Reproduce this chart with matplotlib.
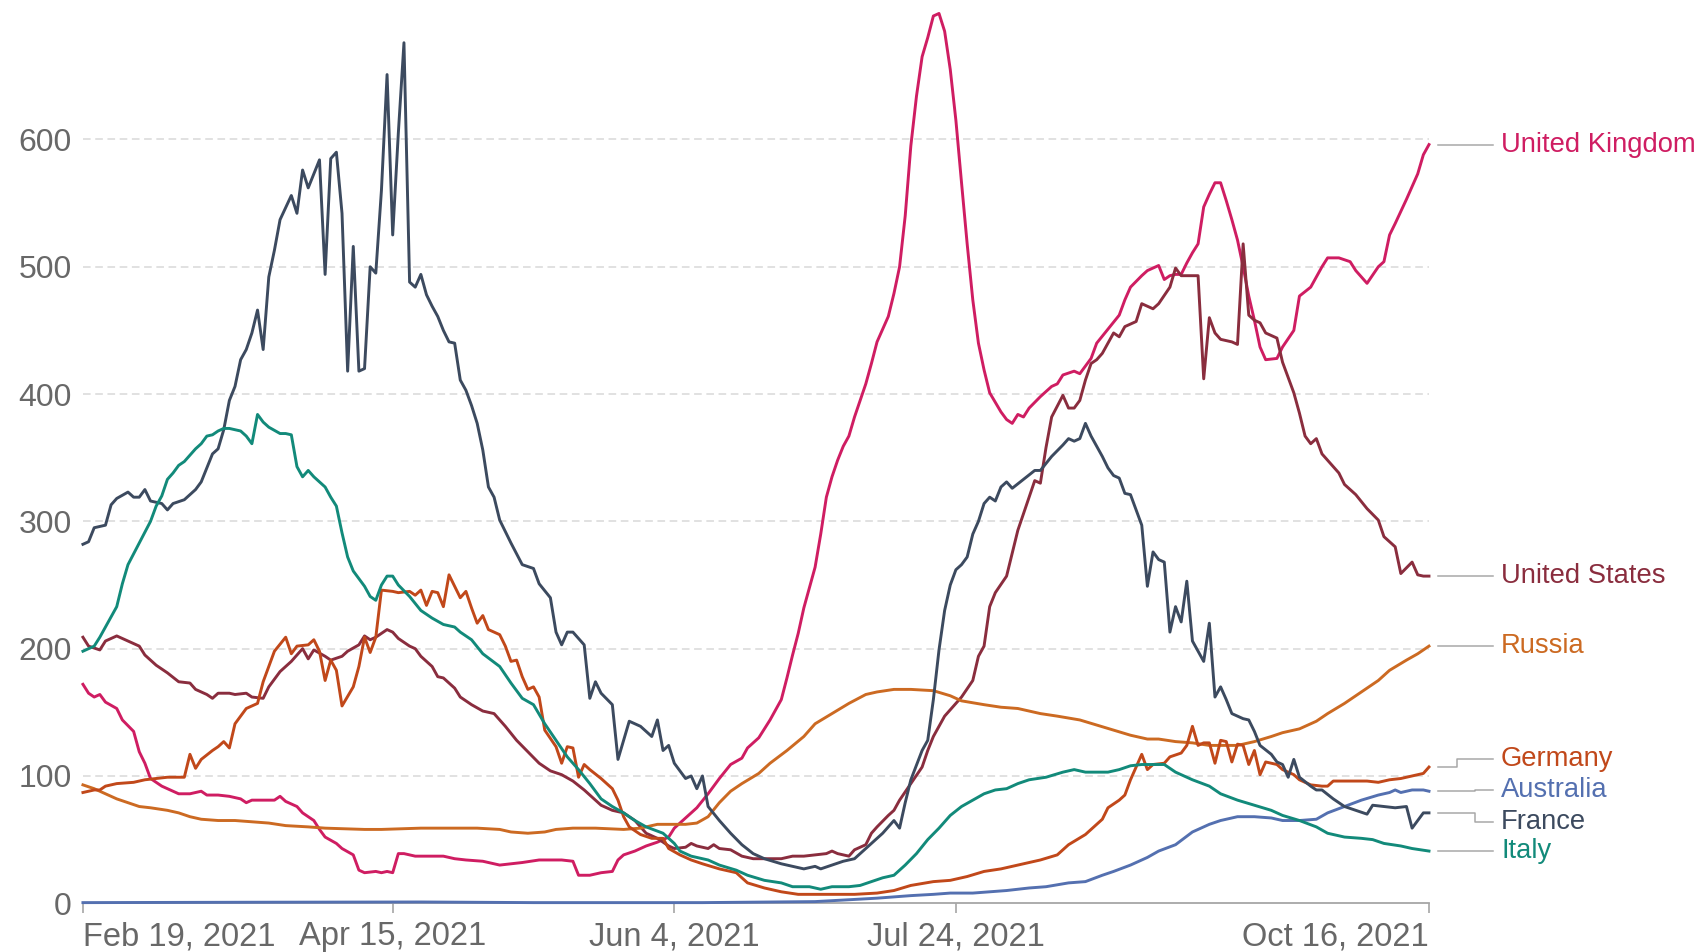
import numpy as np
import matplotlib
matplotlib.use("Agg")
import matplotlib.pyplot as plt
import matplotlib.transforms as mtransforms

plt.rcParams['font.family'] = ['Liberation Sans', 'DejaVu Sans']

START = np.datetime64('2021-02-19')
END = np.datetime64('2021-10-16')

# each series: (days since Feb 19 2021, value)
united_kingdom = [(0,172),(1,165),(2,162),(3,164),(4,158),(6,153),(7,144),(9,135),(10,119),(11,110),(12,98),(14,92),(16,88),(17,86),(19,86),(21,88),(22,85),(24,85),(26,84),(28,82),(29,79),(30,81),(32,81),(34,81),(35,84),(36,80),(38,76),(39,71),(41,65),(42,58),(43,52),(45,47),(46,43),(48,38),(49,26),(50,24),(52,25),(53,24),(54,25),(55,24),(56,39),(57,39),(59,37),(61,37),(64,37),(66,35),(68,34),(71,33),(74,30),(76,31),(78,32),(81,34),(83,34),(85,34),(87,33),(88,22),(90,22),(92,24),(94,25),(95,34),(96,38),(98,41),(100,45),(102,48),(104,52),(105,59),(107,67),(109,75),(111,86),(113,98),(115,109),(117,114),(118,122),(120,130),(121,137),(122,144),(124,160),(125,177),(126,195),(127,212),(128,232),(130,264),(131,290),(132,319),(133,335),(134,348),(135,359),(136,367),(137,382),(138,395),(139,408),(140,424),(141,441),(143,461),(144,479),(145,500),(146,540),(147,595),(148,634),(149,665),(150,680),(151,697),(152,699),(153,685),(154,655),(155,615),(156,566),(157,518),(158,474),(159,440),(160,419),(161,401),(163,386),(164,380),(165,377),(166,384),(167,382),(168,389),(170,398),(172,406),(173,408),(174,415),(176,418),(177,416),(179,428),(180,440),(182,451),(184,462),(185,474),(186,484),(188,493),(189,497),(191,501),(192,490),(193,493),(194,494),(195,494),(196,503),(197,511),(198,518),(199,547),(200,557),(201,566),(202,566),(203,552),(204,537),(205,521),(206,500),(207,477),(208,458),(209,437),(210,427),(212,428),(213,437),(215,450),(216,477),(218,484),(219,492),(220,500),(221,507),(223,507),(225,504),(226,497),(228,487),(230,500),(231,504),(232,525),(233,534),(235,553),(236,563),(237,573),(238,588),(239,596)]

united_states = [(0,209),(1,202),(3,199),(4,206),(6,210),(8,206),(10,202),(11,195),(13,187),(15,181),(17,174),(19,173),(20,168),(22,164),(23,161),(24,165),(26,165),(27,164),(29,165),(30,162),(32,161),(33,170),(35,182),(37,190),(39,200),(40,192),(41,199),(43,194),(44,191),(46,194),(47,198),(49,203),(50,210),(51,207),(52,209),(54,215),(55,213),(56,208),(58,202),(59,200),(60,194),(62,186),(63,178),(64,177),(66,169),(67,162),(69,156),(71,151),(73,149),(75,139),(77,128),(79,119),(81,110),(83,104),(85,101),(87,96),(89,89),(92,77),(94,73),(96,71),(98,65),(100,55),(102,51),(104,45),(105,43),(107,44),(108,47),(109,45),(111,43),(112,46),(113,43),(115,42),(117,37),(119,35),(122,35),(124,35),(126,37),(128,37),(130,38),(132,39),(133,41),(134,39),(136,37),(137,42),(139,46),(140,55),(141,60),(143,69),(144,73),(145,81),(147,94),(149,107),(150,120),(151,131),(153,147),(155,157),(156,162),(158,175),(159,194),(160,202),(161,233),(162,244),(164,257),(165,275),(166,293),(168,319),(169,332),(170,330),(171,358),(172,382),(174,399),(175,389),(176,389),(177,395),(178,411),(179,424),(180,427),(181,432),(182,440),(183,448),(184,445),(185,453),(187,457),(188,471),(189,469),(190,467),(191,471),(193,484),(194,499),(195,493),(197,493),(198,493),(199,412),(200,460),(201,448),(202,443),(204,441),(205,439),(206,518),(207,462),(208,458),(209,456),(210,448),(212,444),(213,425),(215,401),(216,385),(217,367),(218,361),(219,365),(220,353),(221,348),(223,338),(224,329),(226,321),(228,310),(230,301),(231,288),(233,280),(234,259),(236,268),(237,258),(238,257),(239,257)]

russia = [(0,93),(2,90),(4,86),(6,82),(8,79),(10,76),(12,75),(15,73),(17,71),(19,68),(21,66),(24,65),(27,65),(30,64),(33,63),(36,61),(40,60),(43,59),(50,58),(53,58),(60,59),(70,59),(74,58),(76,56),(79,55),(82,56),(84,58),(87,59),(91,59),(96,58),(99,59),(102,62),(107,62),(109,63),(111,68),(113,79),(115,88),(117,94),(120,102),(122,110),(125,120),(128,131),(130,141),(133,149),(136,157),(139,164),(141,166),(144,168),(147,168),(151,167),(154,163),(156,159),(160,156),(163,154),(166,153),(170,149),(173,147),(177,144),(180,140),(183,136),(186,132),(189,129),(191,129),(194,127),(197,126),(200,124),(202,124),(205,124),(208,127),(211,131),(213,134),(216,137),(219,143),(221,149),(224,157),(227,166),(230,175),(232,183),(235,191),(237,196),(239,202)]

germany = [(0,87),(2,89),(3,89),(4,92),(6,94),(9,95),(11,97),(13,98),(15,99),(18,99),(19,117),(20,106),(21,113),(23,120),(24,123),(25,127),(26,122),(27,141),(28,147),(29,153),(31,157),(32,174),(33,186),(34,198),(36,209),(37,196),(38,202),(40,203),(41,207),(42,198),(43,175),(44,191),(45,183),(46,155),(48,170),(49,186),(50,209),(51,197),(52,209),(53,246),(55,245),(56,244),(58,245),(59,242),(60,246),(61,234),(62,245),(63,244),(64,233),(65,258),(66,249),(67,240),(68,245),(69,232),(70,220),(71,226),(72,215),(74,211),(75,202),(76,190),(77,191),(78,178),(79,168),(80,170),(81,162),(82,136),(84,123),(85,110),(86,123),(87,122),(88,99),(89,109),(90,105),(92,98),(94,90),(95,81),(96,68),(97,60),(99,54),(101,51),(103,51),(104,43),(106,38),(108,34),(110,31),(113,27),(116,24),(118,16),(121,12),(124,9),(127,7),(130,7),(134,7),(137,7),(141,8),(144,10),(147,14),(151,17),(154,18),(157,21),(160,25),(163,27),(166,30),(170,34),(173,38),(175,46),(178,54),(181,66),(182,75),(184,81),(185,85),(186,97),(188,117),(189,105),(190,109),(192,110),(193,115),(195,118),(196,124),(197,139),(198,124),(199,126),(200,126),(201,110),(202,128),(203,127),(204,111),(205,125),(206,124),(207,109),(208,120),(209,101),(210,111),(212,109),(213,105),(215,101),(216,97),(218,93),(220,92),(221,92),(222,96),(224,96),(226,96),(228,96),(230,95),(232,97),(234,98),(236,100),(238,102),(239,107)]

australia = [(0,0.5),(30,0.8),(60,1),(80,0.5),(110,0.5),(130,1.3),(137,3),(141,4),(144,5),(147,6),(151,7),(154,8),(158,8),(161,9),(164,10),(168,12),(171,13),(175,16),(178,17),(181,22),(183,25),(186,30),(189,36),(191,41),(194,46),(197,56),(200,62),(202,65),(205,68),(208,68),(211,67),(213,65),(216,65),(219,66),(221,71),(224,76),(227,81),(230,85),(232,87),(233,89),(234,87),(236,89),(238,89),(239,88)]

france = [(0,282),(1,284),(2,295),(4,297),(5,313),(6,318),(8,323),(9,319),(10,319),(11,325),(12,316),(14,314),(15,309),(16,314),(18,317),(20,325),(21,331),(22,342),(23,353),(24,357),(25,372),(26,395),(27,406),(28,427),(29,435),(30,448),(31,466),(32,435),(33,492),(34,513),(35,537),(37,556),(38,542),(39,576),(40,562),(42,584),(43,494),(44,585),(45,590),(46,542),(47,418),(48,516),(49,418),(50,420),(51,500),(52,495),(53,560),(54,651),(55,525),(56,605),(57,676),(58,488),(59,484),(60,494),(61,478),(62,469),(63,461),(64,450),(65,441),(66,440),(67,411),(68,403),(69,391),(70,377),(71,356),(72,327),(73,319),(74,301),(76,283),(78,266),(80,263),(81,251),(83,240),(84,213),(85,203),(86,213),(87,213),(89,203),(90,161),(91,174),(92,165),(94,156),(95,113),(97,143),(99,139),(101,131),(102,144),(103,120),(104,124),(105,110),(107,98),(108,100),(109,90),(110,100),(111,76),(113,65),(115,55),(117,46),(119,39),(121,35),(124,31),(126,29),(128,27),(130,29),(131,27),(133,30),(135,33),(137,35),(139,43),(142,55),(144,65),(145,59),(146,79),(147,97),(149,120),(150,128),(151,160),(152,199),(153,230),(154,250),(155,262),(156,266),(157,272),(158,290),(159,300),(160,314),(161,319),(162,316),(163,327),(164,331),(165,326),(167,333),(169,340),(170,340),(172,351),(174,360),(175,365),(176,363),(177,365),(178,377),(179,367),(181,351),(182,342),(183,336),(184,334),(185,322),(186,321),(187,309),(188,297),(189,249),(190,276),(191,270),(192,268),(193,213),(194,233),(195,221),(196,253),(197,206),(199,190),(200,220),(201,162),(202,170),(203,160),(204,149),(206,145),(207,144),(208,135),(209,124),(211,117),(212,111),(213,109),(214,99),(215,113),(216,99),(218,92),(219,89),(220,89),(222,82),(224,76),(226,73),(228,70),(229,77),(231,76),(233,75),(235,76),(236,59),(238,71),(239,71)]

italy = [(0,198),(2,202),(3,209),(4,217),(6,233),(7,251),(8,266),(10,283),(12,300),(13,312),(14,320),(15,333),(16,338),(17,344),(18,347),(19,352),(20,357),(21,361),(22,367),(23,368),(24,371),(25,373),(26,373),(28,371),(29,367),(30,361),(31,384),(32,378),(33,374),(35,369),(36,369),(37,368),(38,343),(39,335),(40,340),(41,335),(43,327),(44,319),(45,312),(46,291),(47,272),(48,261),(50,249),(51,241),(52,238),(53,250),(54,257),(55,257),(56,250),(58,241),(60,230),(62,224),(64,219),(66,217),(67,213),(69,207),(71,196),(74,186),(76,173),(78,161),(80,156),(82,141),(84,128),(86,115),(88,105),(90,94),(92,82),(94,76),(96,71),(98,65),(100,60),(103,55),(105,47),(106,41),(108,37),(111,34),(113,30),(116,26),(118,22),(121,18),(124,16),(126,13),(129,13),(131,11),(133,13),(136,13),(138,14),(140,17),(142,20),(144,22),(146,30),(148,39),(150,50),(152,59),(154,69),(156,76),(158,81),(160,86),(162,89),(164,90),(166,94),(168,97),(171,99),(174,103),(176,105),(178,103),(180,103),(182,103),(184,105),(186,108),(188,109),(190,109),(192,109),(194,103),(197,97),(200,92),(202,86),(205,81),(208,77),(211,73),(213,69),(216,65),(219,60),(221,55),(224,52),(227,51),(229,50),(231,47),(234,45),(236,43),(239,41)]

names = ["United Kingdom", "United States", "Russia", "Germany", "Australia", "France", "Italy"]
data = [united_kingdom, united_states, russia, germany, australia, france, italy]
colors = ["#cf1d62", "#8a2d3e", "#cc6a22", "#c1481a", "#5470b0", "#3c4a5f", "#128a7a"]

x_tick_dates = ['2021-02-19', '2021-04-15', '2021-06-04', '2021-07-24', '2021-10-16']
x_tick_labels = ['Feb 19, 2021', 'Apr 15, 2021', 'Jun 4, 2021', 'Jul 24, 2021', 'Oct 16, 2021']
y_ticks = [0, 100, 200, 300, 400, 500, 600]

# label tweaks so the end labels don't collide
label_shift = {"Germany": 6, "Australia": 1, "France": -7}
elbow_x = {"Germany": 1.0208, "Australia": 1.0342, "France": 1.0342}

fig = plt.figure(figsize=(17.03, 9.52), dpi=100)
ax = fig.add_axes([0.0487, 0.0512, 0.7904, 0.936])

for y in y_ticks[1:]:
    ax.axhline(y, color='#d9d9d9', lw=1.1, ls=(0, (5, 3)), zorder=1)

trans = mtransforms.blended_transform_factory(ax.transAxes, ax.transData)
for name, series, color in zip(names, data, colors):
    days, vals = zip(*series)
    dates = START + np.array(days).astype('timedelta64[D]')
    ax.plot(dates, vals, color=color, lw=2.1, zorder=3, clip_on=False,
            solid_joinstyle='round')

    end = vals[-1]
    ly = end + label_shift.get(name, 0)
    if name in elbow_x:
        ex = elbow_x[name]
        ax.plot([1.0067, ex, ex, 1.0475], [end, end, ly, ly], color='#a8a8a8',
                lw=1.1, transform=trans, clip_on=False)
    else:
        ax.plot([1.0067, 1.0475], [end, end], color='#a8a8a8', lw=1.1,
                transform=trans, clip_on=False)
    ax.text(1.0535, ly, name, color=color, fontsize=19.7, va='center',
            ha='left', transform=trans)

ax.set_xlim(START, END)
ax.set_ylim(0, 700)

for side in ['top', 'right', 'left']:
    ax.spines[side].set_visible(False)
ax.spines['bottom'].set_color('#a6a6a6')
ax.spines['bottom'].set_linewidth(1.3)

ax.set_xticks([np.datetime64(d) for d in x_tick_dates])
ax.set_xticklabels(x_tick_labels)
ax.tick_params(axis='x', length=7, width=1.2, color='#a6a6a6', pad=6,
               labelsize=23.5, labelcolor='#686868')
xlabels = ax.get_xticklabels()
xlabels[0].set_ha('left')
xlabels[-1].set_ha('right')

ax.set_yticks(y_ticks)
ax.tick_params(axis='y', length=0, pad=8, labelsize=23, labelcolor='#686868')

fig.savefig('out.png', dpi=100, facecolor='white')
